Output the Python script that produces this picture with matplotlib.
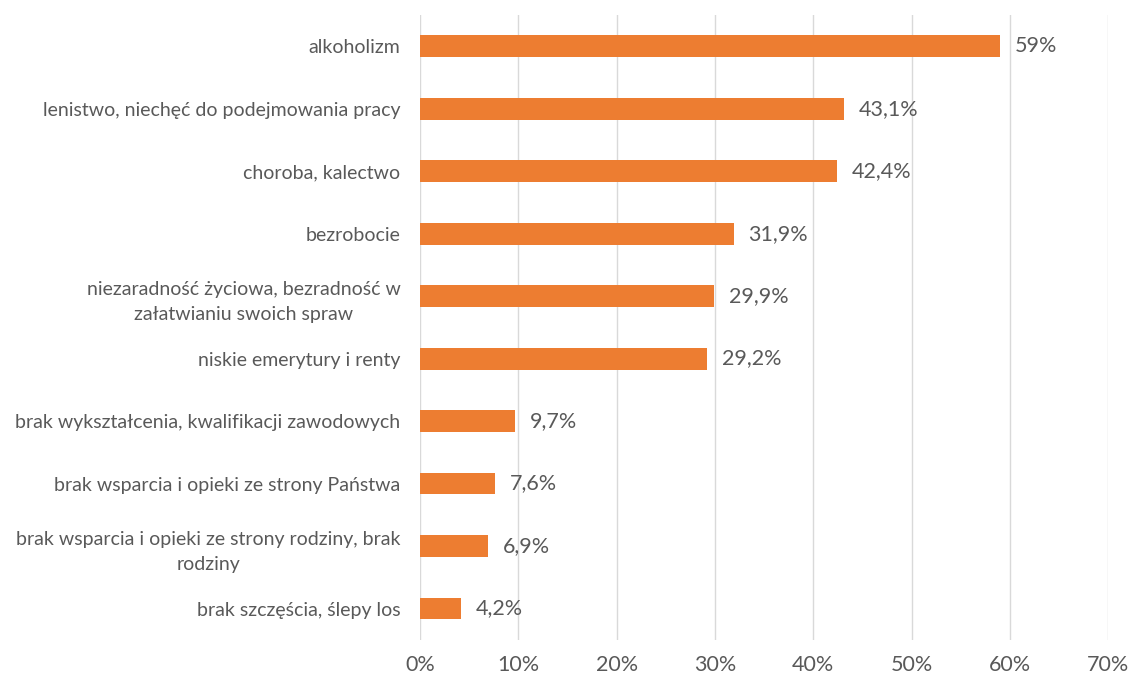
import matplotlib.pyplot as plt
from matplotlib.ticker import FuncFormatter

categories = [
    'alkoholizm',
    'lenistwo, niechęć do podejmowania pracy',
    'choroba, kalectwo',
    'bezrobocie',
    'niezaradność życiowa, bezradność w\nzałatwianiu swoich spraw',
    'niskie emerytury i renty',
    'brak wykształcenia, kwalifikacji zawodowych',
    'brak wsparcia i opieki ze strony Państwa',
    'brak wsparcia i opieki ze strony rodziny, brak\nrodziny',
    'brak szczęścia, ślepy los',
]
values = [59, 43.1, 42.4, 31.9, 29.9, 29.2, 9.7, 7.6, 6.9, 4.2]
value_labels = ['59%', '43,1%', '42,4%', '31,9%', '29,9%', '29,2%', '9,7%', '7,6%', '6,9%', '4,2%']
x_ticks = [0, 10, 20, 30, 40, 50, 60, 70]

plt.rcParams['font.family'] = ['Lato', 'DejaVu Sans']
text_color = '#595959'

fig = plt.figure(figsize=(11.32, 6.77), dpi=100)
ax = fig.add_axes([0.371, 0.055, 0.608, 0.923])

y = list(range(len(categories)))
ax.barh(y, values, height=0.35, color='#ED7D31', zorder=3)
for yi, v, lab in zip(y, values, value_labels):
    ax.text(v + 1.5, yi, lab, va='center', ha='left', fontsize=15.5, color=text_color)

ax.set_xlim(0, 70)
ax.set_ylim(len(categories) - 0.5, -0.5)
ax.set_xticks(x_ticks)
ax.xaxis.set_major_formatter(FuncFormatter(lambda v, p: f'{v:.0f}%'))
ax.set_yticks(y)
ax.set_yticklabels(categories, fontsize=14, color=text_color, linespacing=1.6,
                   multialignment='center')
ax.tick_params(axis='x', labelsize=15.5, labelcolor=text_color, length=0, pad=11)
ax.tick_params(axis='y', length=0, pad=14)
ax.grid(axis='x', color='#d9d9d9', linewidth=1, zorder=0)
for s in ax.spines.values():
    s.set_visible(False)

fig.savefig('out.png', dpi=100)
